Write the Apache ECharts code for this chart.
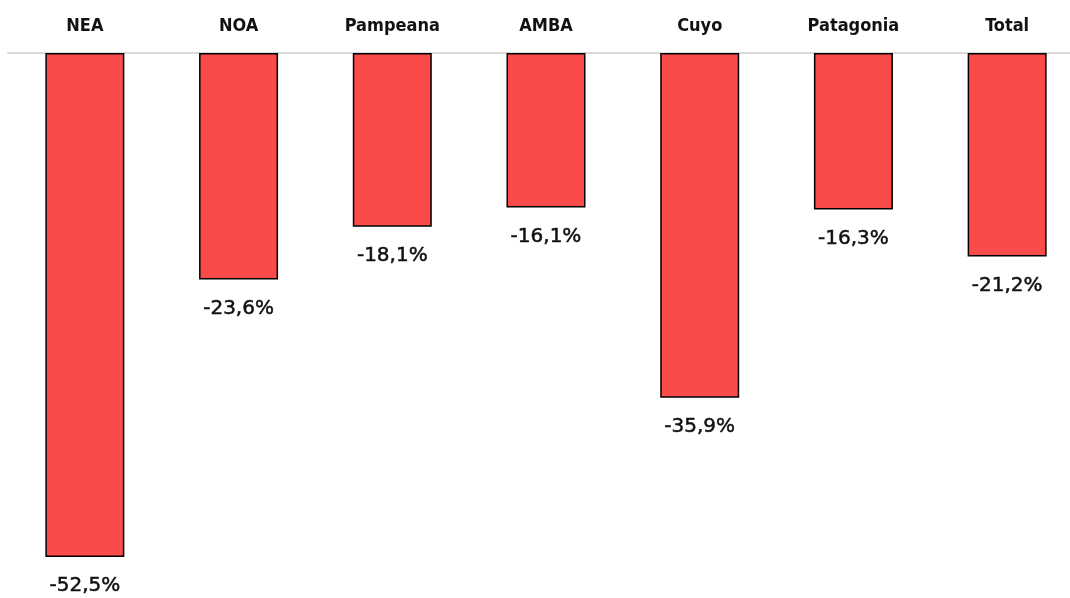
<!DOCTYPE html>
<html>
<head>
<meta charset="utf-8">
<script src="https://cdn.jsdelivr.net/npm/echarts@6/dist/echarts.min.js"></script>
<style>
  html, body { margin: 0; padding: 0; background: #fff; }
  #chart { width: 1070px; height: 598px; }
</style>
</head>
<body>
<div id="chart"></div>
<script>
const regions = ["NEA", "NOA", "Pampeana", "AMBA", "Cuyo", "Patagonia", "Total"];
const variation = [-52.5, -23.6, -18.1, -16.1, -35.9, -16.3, -21.2];

const chart = echarts.init(document.getElementById("chart"));

const options = {
  animation: false,
  grid: {
    left: 8,
    top: 53,
    width: 1076,
    bottom: 17,
    containLabel: false,
    outerBoundsMode: "none",
  },
  xAxis: {
    type: "category",
    position: "top",
    data: regions,
    axisLine: { show: true, lineStyle: { color: "#d9d9d9", width: 2 } },
    axisTick: { show: false },
    axisLabel: {
      margin: 18,
      color: "#111",
      fontFamily: "DejaVu Sans Condensed",
      fontWeight: "bold",
      fontSize: 18,
    },
  },
  yAxis: {
    type: "value",
    min: -55,
    max: 0,
    show: false,
    splitLine: { show: false },
  },
  series: [
    {
      type: "bar",
      data: variation,
      barWidth: 79,
      itemStyle: {
        color: "#fb4a4a",
        borderColor: "#000",
        borderWidth: 1.5,
      },
      label: {
        show: true,
        position: "bottom",
        distance: 19,
        color: "#111",
        fontFamily: "DejaVu Sans",
        fontSize: 20,
        textBorderColor: "#111",
        textBorderWidth: 0.5,
        formatter: (p) => p.value.toFixed(1).replace(".", ",") + "%",
      },
    },
  ],
};

chart.setOption(options);
</script>
</body>
</html>
